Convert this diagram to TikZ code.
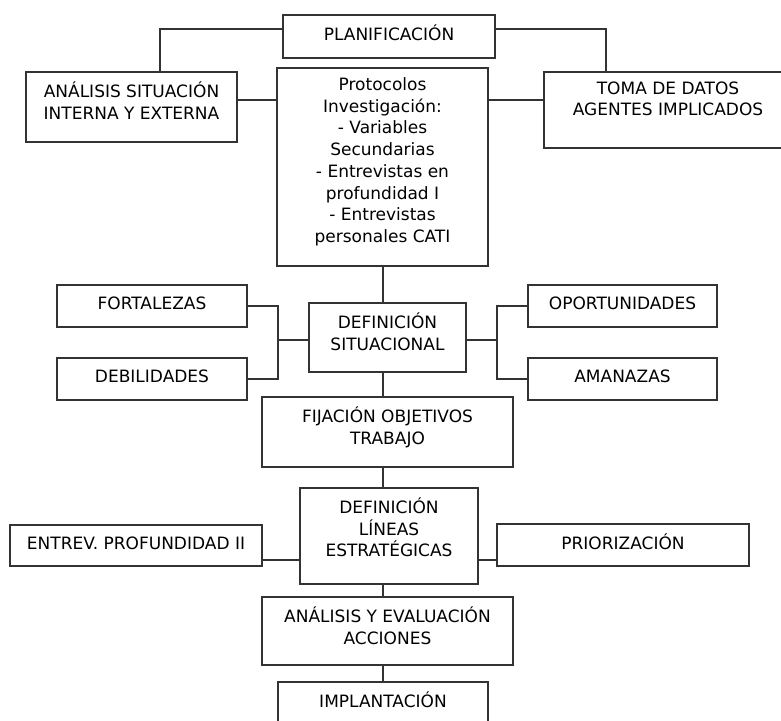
\documentclass[tikz,border=0pt]{standalone}
\usepackage{fontspec}
\setmainfont{DejaVu Sans}
\usetikzlibrary{positioning}

\begin{document}
\begin{tikzpicture}[x=1pt, y=-1pt,
    caja/.style={draw=black!80, line width=1.2pt, rectangle, inner sep=0pt},
    texto/.style={align=center, inner sep=0pt, font=\fontsize{17}{21.7}\selectfont, execute at begin node=\strut},
    linea/.style={draw=black!80, line width=1.2pt}]
            \useasboundingbox (0,0) rectangle (781,720);
            \clip (0,0) rectangle (781,720);
            % cajas
            \node[caja, minimum width=212, minimum height=43] (plan) at (389,36.5) {};
            \node[caja, minimum width=211, minimum height=70] (anal) at (131.5,107) {};
            \node[caja, minimum width=211, minimum height=198] (prot) at (382.5,167) {};
            \node[caja, minimum width=248, minimum height=76] (toma) at (668,110) {};
            \node[caja, minimum width=157, minimum height=69] (defs) at (387.5,337.5) {};
            \node[caja, minimum width=190, minimum height=42] (fort) at (152,306) {};
            \node[caja, minimum width=190, minimum height=42] (debi) at (152,379) {};
            \node[caja, minimum width=189, minimum height=42] (opor) at (622.5,306) {};
            \node[caja, minimum width=189, minimum height=42] (amen) at (622.5,379) {};
            \node[caja, minimum width=251, minimum height=70] (fija) at (387.5,432) {};
            \node[caja, minimum width=178, minimum height=96] (defl) at (389,536) {};
            \node[caja, minimum width=252, minimum height=41] (entr) at (136,545.5) {};
            \node[caja, minimum width=252, minimum height=42] (prio) at (623,545) {};
            \node[caja, minimum width=251, minimum height=68] (anev) at (387.5,631) {};
            \node[caja, minimum width=210, minimum height=60] (impl) at (383,712) {};
            % textos
            \node[texto, below=10pt of plan.north] (t-plan) {PLANIFICACIÓN};
            \node[texto, below=10pt of anal.north] (t-anal) {ANÁLISIS SITUACIÓN\\INTERNA Y EXTERNA};
            \node[texto, below=10pt of prot.north] (t-prot) {Protocolos\\Investigación:\\- Variables\\Secundarias\\- Entrevistas en\\profundidad I\\- Entrevistas\\personales CATI};
            \node[texto, below=10pt of toma.north] (t-toma) {TOMA DE DATOS\\AGENTES IMPLICADOS};
            \node[texto, below=10pt of defs.north] (t-defs) {DEFINICIÓN\\SITUACIONAL};
            \node[texto, below=10pt of fort.north] (t-fort) {FORTALEZAS};
            \node[texto, below=10pt of debi.north] (t-debi) {DEBILIDADES};
            \node[texto, below=10pt of opor.north] (t-opor) {OPORTUNIDADES};
            \node[texto, below=10pt of amen.north] (t-amen) {AMANAZAS};
            \node[texto, below=10pt of fija.north] (t-fija) {FIJACIÓN OBJETIVOS\\TRABAJO};
            \node[texto, below=10pt of defl.north] (t-defl) {DEFINICIÓN\\LÍNEAS\\ESTRATÉGICAS};
            \node[texto, below=10pt of entr.north] (t-entr) {ENTREV. PROFUNDIDAD II};
            \node[texto, below=10pt of prio.north] (t-prio) {PRIORIZACIÓN};
            \node[texto, below=10pt of anev.north] (t-anev) {ANÁLISIS Y EVALUACIÓN\\ACCIONES};
            \node[texto, below=10pt of impl.north] (t-impl) {IMPLANTACIÓN};
            % lineas
            \coordinate (f0) at (0,29);
            \coordinate (f1) at (0,100);
            \coordinate (f4) at (0,560);
            \coordinate (eje) at (383,0);
            \coordinate (bi) at (278,340);
            \coordinate (bd) at (497,340);
            \draw[linea] (plan.west |- f0) -| ([xshift=28.5pt]anal.north);
            \draw[linea] (plan.east |- f0) -| ([xshift=-62pt]toma.north);
            \draw[linea] (anal.east |- f1) -- (prot.west |- f1);
            \draw[linea] (prot.east |- f1) -- (toma.west |- f1);
            \draw[linea] (prot.south -| eje) -- (defs.north -| eje);
            \draw[linea] (fort.east) -| (bi) |- (debi.east);
            \draw[linea] (bi) -- (bi -| defs.west);
            \draw[linea] (opor.west) -| (bd) |- (amen.west);
            \draw[linea] (bd) -- (bd -| defs.east);
            \draw[linea] (defs.south -| eje) -- (fija.north -| eje);
            \draw[linea] (fija.south -| eje) -- (defl.north -| eje);
            \draw[linea] (entr.east |- f4) -- (defl.west |- f4);
            \draw[linea] (defl.east |- f4) -- (prio.west |- f4);
            \draw[linea] (defl.south -| eje) -- (anev.north -| eje);
            \draw[linea] (anev.south -| eje) -- (impl.north -| eje);
        \end{tikzpicture}
\end{document}
